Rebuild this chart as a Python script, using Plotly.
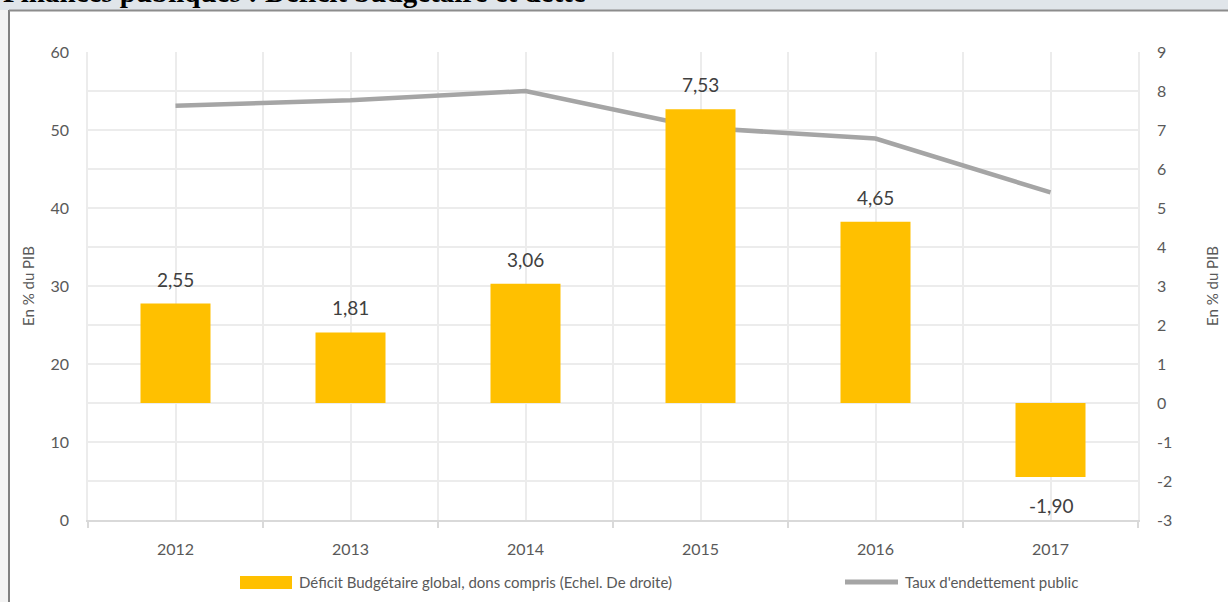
import plotly.graph_objects as go

# ---- data ----
years = [2012, 2013, 2014, 2015, 2016, 2017]
year_labels = ["2012", "2013", "2014", "2015", "2016", "2017"]
deficit = [2.55, 1.81, 3.06, 7.53, 4.65, -1.90]
deficit_labels = ["2,55", "1,81", "3,06", "7,53", "4,65", "-1,90"]
debt = [53.1, 53.8, 55.0, 50.3, 48.9, 42.0]
left_ticks = [0, 10, 20, 30, 40, 50, 60]
right_ticks = [-3, -2, -1, 0, 1, 2, 3, 4, 5, 6, 7, 8, 9]
right_tick_labels = ["-3", "-2", "-1", "0", "1", "2", "3", "4", "5", "6", "7", "8", "9"]

W, H = 1228, 602
L, R, T, B = 88, 90, 52, 82
PW, PH = W - L - R, H - T - B


def px(x):
    return (x - L) / PW


def py(y):
    return (H - B - y) / PH


FONT = "Lato"
TXT = "#595959"
GRID = "#ececec"

fig = go.Figure()
fig.add_trace(go.Bar(x=years, y=deficit, yaxis="y2", width=0.4,
                     marker=dict(color="#FFC000", line=dict(width=0)),
                     name="Déficit Budgétaire global, dons compris (Echel. De droite)",
                     showlegend=False, hoverinfo="skip"))
fig.add_trace(go.Scatter(x=years, y=debt, yaxis="y", mode="lines",
                         line=dict(color="#A5A5A5", width=4.5),
                         name="Taux d'endettement public", showlegend=False, hoverinfo="skip"))

annotations = []
for x, v, t in zip(years, deficit, deficit_labels):
    if v >= 0:
        annotations.append(dict(x=x, y=v, xref="x", yref="y2", text=t, showarrow=False,
                                yanchor="bottom", yshift=12, borderpad=0,
                                font=dict(family=FONT, size=19, color="#404040")))
    else:
        annotations.append(dict(x=x, y=v, xref="x", yref="y2", text=t, showarrow=False,
                                yanchor="top", yshift=-16, borderpad=0,
                                font=dict(family=FONT, size=19, color="#404040")))

# title, cut at the very top as in the reference
annotations.append(dict(x=px(1), y=py(-8), xref="paper", yref="paper", xanchor="left",
                        yanchor="middle", showarrow=False,
                        text="<b>Finances publiques : Déficit budgétaire et dette</b>",
                        font=dict(family="Liberation Serif", size=29, color="#000000")))
# custom legend texts
annotations.append(dict(x=px(297), y=py(582), xref="paper", yref="paper", xanchor="left",
                        yanchor="middle", showarrow=False,
                        text="Déficit Budgétaire global, dons compris (Echel. De droite)",
                        font=dict(family=FONT, size=15, color=TXT)))
annotations.append(dict(x=px(903), y=py(582), xref="paper", yref="paper", xanchor="left",
                        yanchor="middle", showarrow=False,
                        text="Taux d'endettement public",
                        font=dict(family=FONT, size=15, color=TXT)))

shapes = [
    # page background
    dict(type="rect", xref="paper", yref="paper", x0=px(0), x1=px(W), y0=py(H), y1=py(0),
         fillcolor="#f3f3f3", line=dict(width=0), layer="below"),
    dict(type="rect", xref="paper", yref="paper", x0=px(0), x1=px(W), y0=py(10), y1=py(0),
         fillcolor="#e0e5ea", line=dict(width=0), layer="below"),
    dict(type="rect", xref="paper", yref="paper", x0=px(10), x1=px(W + 5), y0=py(H + 5), y1=py(11),
         fillcolor="#ffffff", line=dict(width=0), layer="below"),
    dict(type="line", xref="paper", yref="paper", x0=px(9), x1=px(9), y0=py(H + 5), y1=py(10),
         line=dict(color="#808080", width=2), layer="below"),
    dict(type="line", xref="paper", yref="paper", x0=px(9), x1=px(W + 5), y0=py(10.5), y1=py(10.5),
         line=dict(color="#8c8c8c", width=2), layer="below"),
    # legend symbols
    dict(type="rect", xref="paper", yref="paper", x0=px(240), x1=px(292), y0=py(589), y1=py(576),
         fillcolor="#FFC000", line=dict(width=0)),
    dict(type="line", xref="paper", yref="paper", x0=px(845), x1=px(898), y0=py(582), y1=py(582),
         line=dict(color="#A5A5A5", width=5)),
]

fig.update_layout(
    width=W, height=H,
    margin=dict(l=L, r=R, t=T, b=B, autoexpand=False),
    paper_bgcolor="#ffffff", plot_bgcolor="#ffffff",
    font=dict(family=FONT, color=TXT),
    bargap=0.6,
    showlegend=False,
    hovermode=False,
    annotations=annotations,
    shapes=shapes,
    xaxis=dict(range=[2011.5, 2017.5], tickvals=years, ticktext=year_labels,
               ticks="", showgrid=True, gridcolor=GRID, gridwidth=1.5,
               showline=True, linecolor="#d9d9d9", linewidth=1.5,
               zeroline=False, ticklabelstandoff=14, automargin=False,
               tickfont=dict(family=FONT, size=16, color=TXT),
               minor=dict(tick0=2011.5, dtick=1, showgrid=True, gridcolor=GRID, gridwidth=1.5,
                          ticks="outside", ticklen=6, tickcolor="#d9d9d9", tickwidth=1.5)),
    yaxis=dict(range=[0, 60], tickvals=left_ticks, showgrid=False, zeroline=False,
               showline=True, linecolor=GRID, linewidth=1.5, automargin=False,
               ticks="outside", ticklen=14, tickcolor="rgba(0,0,0,0)",
               tickfont=dict(family=FONT, size=16, color=TXT),
               title=dict(text="En % du PIB", standoff=12,
                          font=dict(family=FONT, size=15, color=TXT))),
    yaxis2=dict(range=[-3, 9], tickvals=right_ticks, ticktext=right_tick_labels,
                overlaying="y", side="right",
                showgrid=True, gridcolor=GRID, gridwidth=1.5, zeroline=False,
                showline=True, linecolor=GRID, linewidth=1.5, automargin=False,
                ticks="outside", ticklen=14, tickcolor="rgba(0,0,0,0)",
                tickfont=dict(family=FONT, size=16, color=TXT),
                title=dict(text="En % du PIB", standoff=36,
                           font=dict(family=FONT, size=15, color=TXT))),
)

fig.write_html("out.html", config={"displayModeBar": False},
               post_script="document.body.style.margin='0';document.body.style.overflow='hidden';")
